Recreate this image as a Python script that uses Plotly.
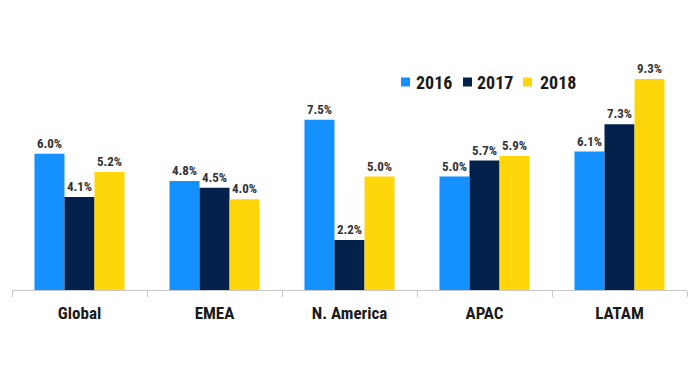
import plotly.graph_objects as go

categories = ["Global", "EMEA", "N. America", "APAC", "LATAM"]
years = ["2016", "2017", "2018"]
v2016 = [6.0, 4.8, 7.5, 5.0, 6.1]
v2017 = [4.1, 4.5, 2.2, 5.7, 7.3]
v2018 = [5.2, 4.0, 5.0, 5.9, 9.3]
colors = ["#1591FF", "#03214A", "#FFD60A"]

FONT = "Roboto Condensed, Roboto, sans-serif"

# page body has an 8px margin; plot area target in screen px
OFF = 8
PX_L, PX_R, PX_T, PX_B = 12, 687, 63, 290
W, H = 699, 380

fig = go.Figure()
for name, vals, col in zip(years, [v2016, v2017, v2018], colors):
    fig.add_trace(go.Bar(
        x=categories, y=vals, name=name, marker=dict(color=col, line=dict(width=0)),
        text=[f"{v:.1f}%" for v in vals], textposition="outside", cliponaxis=False,
        textfont=dict(family=FONT, size=13, color="#333333", weight="bold"),
        showlegend=False,
    ))

def px2paper(x, y):
    return (x - PX_L) / (PX_R - PX_L), (PX_B - y) / (PX_B - PX_T)

# manual legend (squares + labels)
legend_sq_x = [401, 463, 523]
legend_txt_x = [414, 475, 538]
leg_y = 82
for name, col, sx, tx in zip(years, colors, legend_sq_x, legend_txt_x):
    x0, y0 = px2paper(sx, leg_y + 4.5)
    x1, y1 = px2paper(sx + 9, leg_y - 4.5)
    fig.add_shape(type="rect", xref="paper", yref="paper", x0=x0, x1=x1, y0=y0, y1=y1,
                  fillcolor=col, line=dict(width=0))
    ax, ay = px2paper(tx, leg_y)
    fig.add_annotation(xref="paper", yref="paper", x=ax, y=ay, xanchor="left", yanchor="middle",
                       text=name, showarrow=False,
                       font=dict(family=FONT, size=18, color="#1a1a1a", weight="bold"))

fig.update_layout(
    width=W, height=H,
    margin=dict(l=PX_L - OFF, r=W - PX_R + OFF, t=PX_T - OFF, b=H - PX_B + OFF, autoexpand=False),
    paper_bgcolor="white", plot_bgcolor="white",
    barmode="group", bargap=0.333, bargroupgap=0,
    showlegend=False,
    font=dict(family=FONT),
)
fig.update_xaxes(
    showline=True, linecolor="#c8c8c8", linewidth=1,
    ticks="outside", tickson="boundaries", ticklen=6, tickcolor="#c8c8c8",
    tickfont=dict(family=FONT, size=17, color="#1a1a1a", weight="bold"),
    ticklabelstandoff=8,
    showgrid=False, range=[-0.5, 4.5], automargin=False,
)
fig.update_yaxes(visible=False, range=[0, 10], showgrid=False)

fig.write_html("out.html")
